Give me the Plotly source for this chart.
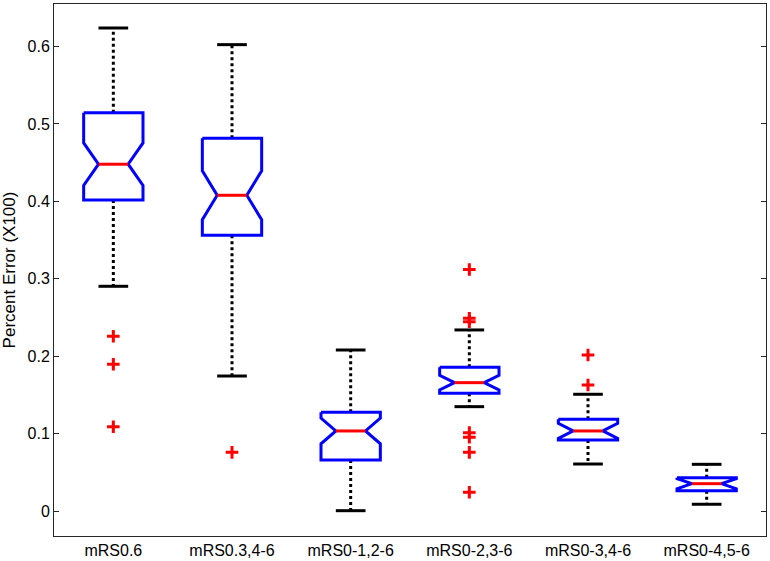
import plotly.graph_objects as go

# ---- data ----
categories = ["mRS0.6", "mRS0.3,4-6", "mRS0-1,2-6", "mRS0-2,3-6", "mRS0-3,4-6", "mRS0-4,5-6"]
upper_whisker = [0.624, 0.6025, 0.208, 0.2339, 0.1508, 0.0603]
q3 = [0.5146, 0.4815, 0.1275, 0.1857, 0.1185, 0.0430]
median = [0.4480, 0.4079, 0.1034, 0.1658, 0.1034, 0.0353]
q1 = [0.4018, 0.3562, 0.0659, 0.1520, 0.0917, 0.0262]
lower_whisker = [0.2903, 0.1744, 0.0004, 0.1348, 0.0607, 0.0087]
notch_half = [0.0275, 0.0316, 0.0166, 0.0095, 0.0097, 0.0065]
outliers = [
    [0.2257, 0.1895, 0.1089],
    [0.0758],
    [],
    [0.312, 0.249, 0.2446, 0.1012, 0.0952, 0.0758, 0.0242],
    [0.2015, 0.1628],
    [],
]
y_ticks = [0, 0.1, 0.2, 0.3, 0.4, 0.5, 0.6]

BOX_HALF = 0.25
BLUE = "#0000FF"
RED = "#FF0000"
BLACK = "#000000"

positions = list(range(1, len(categories) + 1))

fig = go.Figure()

# whiskers (dotted) and caps
wx, wy, cx, cy = [], [], [], []
for p, uw, lw, a, b in zip(positions, upper_whisker, lower_whisker, q3, q1):
    wx += [p, p, None, p, p, None]
    wy += [a, uw, None, b, lw, None]
    cx += [p - BOX_HALF / 2, p + BOX_HALF / 2, None, p - BOX_HALF / 2, p + BOX_HALF / 2, None]
    cy += [uw, uw, None, lw, lw, None]
fig.add_trace(go.Scatter(x=wx, y=wy, mode="lines",
                         line=dict(color=BLACK, width=3, dash="3px,3px"),
                         hoverinfo="skip", showlegend=False))
fig.add_trace(go.Scatter(x=cx, y=cy, mode="lines",
                         line=dict(color=BLACK, width=3),
                         hoverinfo="skip", showlegend=False))

# notched boxes
bx, by = [], []
mx, my = [], []
for p, a, m, b, n in zip(positions, q3, median, q1, notch_half):
    w = BOX_HALF
    bx += [p - w, p - w, p - w / 2, p - w, p - w, p + w, p + w, p + w / 2, p + w, p + w, p - w, None]
    by += [a, m + n, m, m - n, b, b, m - n, m, m + n, a, a, None]
    mx += [p - w / 2, p + w / 2, None]
    my += [m, m, None]
fig.add_trace(go.Scatter(x=bx, y=by, mode="lines",
                         line=dict(color=BLUE, width=3),
                         hoverinfo="skip", showlegend=False))
fig.add_trace(go.Scatter(x=mx, y=my, mode="lines",
                         line=dict(color=RED, width=3),
                         hoverinfo="skip", showlegend=False))

# outliers
ox, oy = [], []
for p, outs in zip(positions, outliers):
    for v in outs:
        ox.append(p)
        oy.append(v)
fig.add_trace(go.Scatter(x=ox, y=oy, mode="markers",
                         marker=dict(symbol="cross-thin", size=9,
                                     line=dict(color=RED, width=3)),
                         hoverinfo="skip", showlegend=False))

fig.update_layout(
    template="none",
    width=770, height=561,
    margin=dict(l=54, r=4, t=4, b=25, pad=0),
    paper_bgcolor="white", plot_bgcolor="white",
    font=dict(family="Liberation Sans, Arial, sans-serif", size=16, color="black"),
    showlegend=False,
)
fig.update_xaxes(
    range=[0.5, 6.5], tickmode="array", tickvals=positions, ticktext=categories,
    ticks="", showgrid=False, zeroline=False,
    showline=True, linecolor="#262626", linewidth=1, mirror=True,
    tickfont=dict(size=16), ticklabelstandoff=0, automargin=False,
)
fig.update_yaxes(
    range=[-0.0323, 0.655], tickmode="array", tickvals=y_ticks,
    ticktext=[f"{t:g}" for t in y_ticks],
    ticks="inside", ticklen=5, tickcolor="#262626",
    showgrid=False, zeroline=False,
    showline=True, linecolor="#262626", linewidth=1, mirror="ticks",
    tickfont=dict(size=16),
    title=dict(text="Percent Error (X100)", font=dict(size=17), standoff=8),
    automargin=False,
)

fig.write_html(
    "out.html",
    config={"displayModeBar": False},
    post_script="document.body.style.margin='0';document.body.style.overflow='hidden';",
)
